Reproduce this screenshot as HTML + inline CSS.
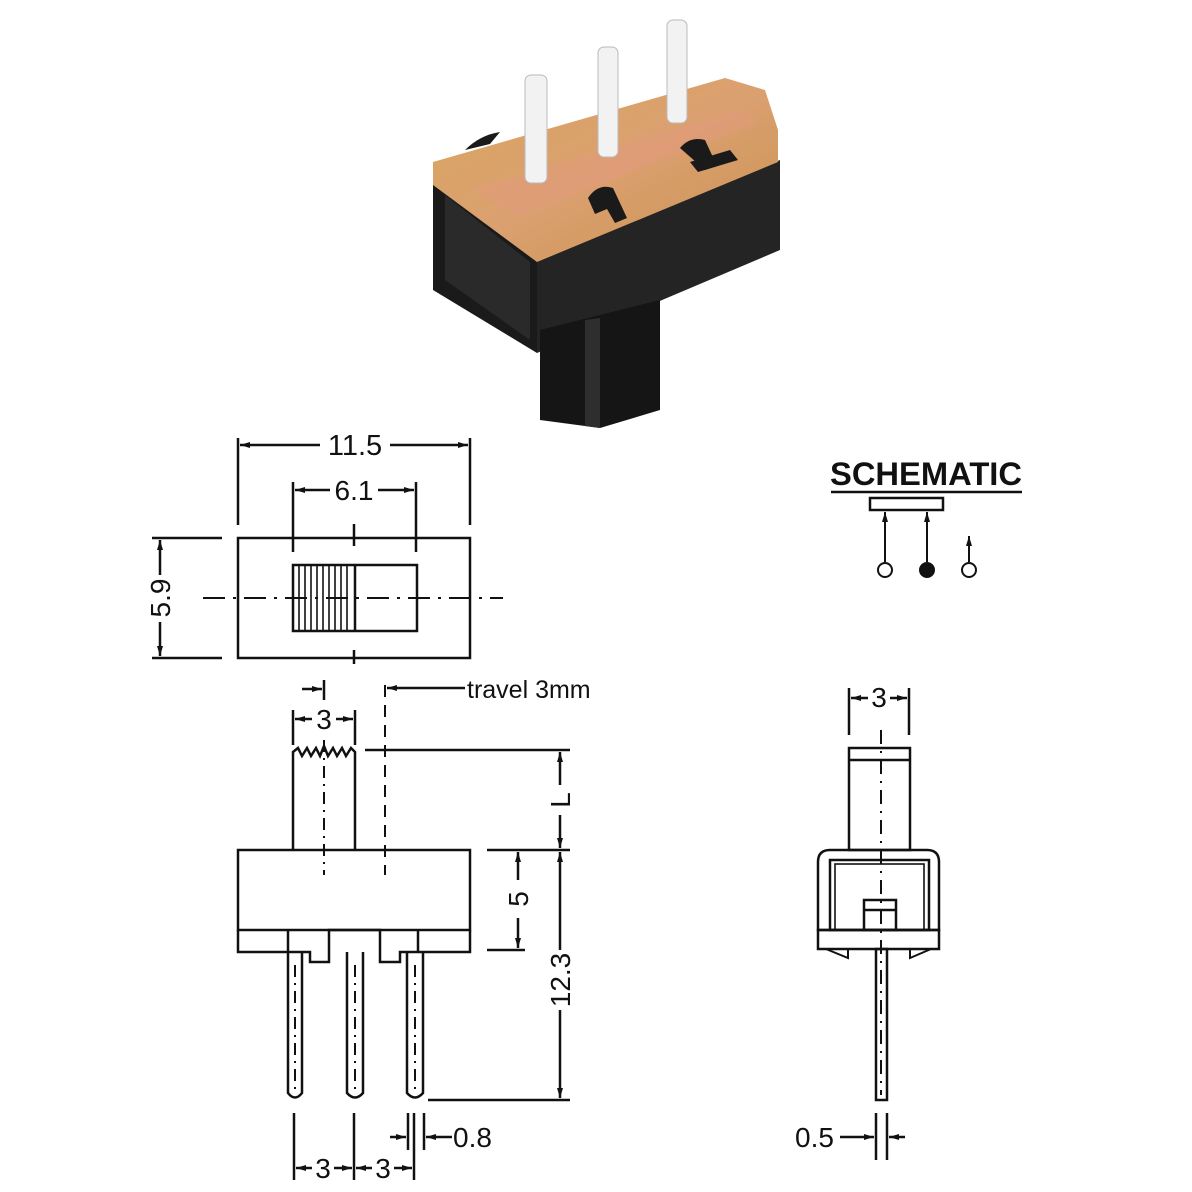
<!DOCTYPE html>
<html><head><meta charset="utf-8"><style>
html,body{margin:0;padding:0;background:#fff}
svg{display:block}
text{font-family:"Liberation Sans",Arial,sans-serif;fill:#111}
</style></head><body>
<svg width="1192" height="1192" viewBox="0 0 1192 1192" xmlns="http://www.w3.org/2000/svg">
<defs>
<marker id="a" viewBox="0 0 10 6" refX="10" refY="3" markerWidth="10" markerHeight="6" orient="auto-start-reverse" markerUnits="userSpaceOnUse"><path d="M0,0 L10,3 L0,6 z" fill="#111"/></marker>
<linearGradient id="tan" x1="0" y1="0" x2="1" y2="1"><stop offset="0" stop-color="#d9a65e"/><stop offset="0.5" stop-color="#dba070"/><stop offset="1" stop-color="#c9924f"/></linearGradient>
</defs>
<!-- photo -->
<g>
<polygon points="433,178 537,258 537,353 433,290" fill="#1a1a1a"/>
<polygon points="445,195 530,262 530,340 445,280" fill="#2a2a2a"/>
<polygon points="537,258 780,160 780,250 537,353" fill="#242424"/>
<polygon points="540,330 660,300 660,410 600,428 540,420" fill="#151515"/>
<polygon points="585,320 600,318 600,428 585,426" fill="#2e2e2e"/>
<polygon points="433,162 725,78 765,90 778,130 778,162 537,262 433,185" fill="url(#tan)"/>
<polygon points="470,190 740,110 760,122 520,215" fill="#e59a80" opacity="0.45"/>
<path d="M588,198 q10,-15 25,-10 l14,30 l-12,5 l-8,-14 l-12,5 z" fill="#1a1a1a"/>
<path d="M680,148 q10,-12 25,-8 l12,26 l-12,4 z" fill="#1a1a1a"/>
<path d="M690,162 l40,-12 l8,10 l-40,12 z" fill="#1a1a1a"/>
<path d="M465,150 q15,-15 35,-18 l-10,12 z" fill="#1a1a1a"/>
<g fill="#f2f2f2" stroke="#bbb" stroke-width="1">
<rect x="525" y="75" width="22" height="108" rx="6"/>
<rect x="598" y="47" width="20" height="110" rx="6"/>
<rect x="667" y="20" width="20" height="103" rx="6"/>
</g>
</g>

<g stroke="#111" stroke-width="2.5" fill="none">
<!-- top view -->
<rect x="238" y="538" width="232" height="120"/>
<rect x="293" y="565" width="124" height="66"/>
<g stroke-width="1.6">
<line x1="299" y1="565" x2="299" y2="631"/><line x1="305" y1="565" x2="305" y2="631"/>
<line x1="311" y1="565" x2="311" y2="631"/><line x1="317" y1="565" x2="317" y2="631"/>
<line x1="323" y1="565" x2="323" y2="631"/><line x1="329" y1="565" x2="329" y2="631"/>
<line x1="335" y1="565" x2="335" y2="631"/><line x1="341" y1="565" x2="341" y2="631"/>
<line x1="347" y1="565" x2="347" y2="631"/>
</g>
<line x1="355" y1="565" x2="355" y2="631"/>
<line x1="203" y1="598" x2="503" y2="598" stroke-width="2" stroke-dasharray="22,8,3,8"/>
<line x1="354" y1="524" x2="354" y2="546"/><line x1="354" y1="650" x2="354" y2="664"/>
<line x1="238" y1="438" x2="238" y2="525"/><line x1="470" y1="438" x2="470" y2="525"/>
<line x1="240" y1="445" x2="320" y2="445" marker-start="url(#a)"/><line x1="390" y1="445" x2="468" y2="445" marker-end="url(#a)"/>
<line x1="293" y1="482" x2="293" y2="552"/><line x1="416" y1="482" x2="416" y2="552"/>
<line x1="295" y1="490" x2="330" y2="490" marker-start="url(#a)"/><line x1="378" y1="490" x2="414" y2="490" marker-end="url(#a)"/>
<line x1="152" y1="538" x2="222" y2="538"/><line x1="152" y1="658" x2="222" y2="658"/>
<line x1="160" y1="540" x2="160" y2="575" marker-start="url(#a)"/><line x1="160" y1="622" x2="160" y2="656" marker-end="url(#a)"/>

<!-- side view -->
<path d="M293,850 L293,752 L298,748 L302,756 L307,748 L311,756 L316,748 L320,756 L324,746 L328,756 L333,748 L337,756 L342,748 L346,756 L351,748 L355,752 L355,850"/>
<rect x="238" y="850" width="232" height="80" />
<path d="M238,930 L238,952 L288,952 L288,930 M288,952 L310,952 L310,962 L329,962 L329,930 L380,930 L380,962 L400,962 L400,952 L418,952 L418,930 M418,952 L470,952 L470,930"/>
<path d="M288,952 L288,1093 Q295,1102 302,1093 L302,952"/>
<path d="M347,952 L347,1093 Q355,1102 363,1093 L363,952"/>
<path d="M407,952 L407,1093 Q415,1102 423,1093 L423,952"/>
<g stroke-width="2" stroke-dasharray="12,6,2,6">
<line x1="295" y1="965" x2="295" y2="1090"/><line x1="355" y1="965" x2="355" y2="1090"/><line x1="415" y1="965" x2="415" y2="1090"/>
<line x1="324" y1="740" x2="324" y2="875"/>
</g>
<line x1="385" y1="685" x2="385" y2="875" stroke-width="2" stroke-dasharray="12,8"/>
<line x1="293" y1="710" x2="293" y2="745"/><line x1="355" y1="710" x2="355" y2="745"/>
<line x1="295" y1="719" x2="312" y2="719" marker-start="url(#a)"/><line x1="336" y1="719" x2="353" y2="719" marker-end="url(#a)"/>
<line x1="324" y1="680" x2="324" y2="700"/><line x1="302" y1="689" x2="322" y2="689" marker-end="url(#a)"/>
<line x1="387" y1="688" x2="465" y2="688" marker-start="url(#a)"/>
<line x1="365" y1="750" x2="570" y2="750"/>
<line x1="487" y1="850" x2="570" y2="850"/>
<line x1="487" y1="950" x2="525" y2="950"/>
<line x1="428" y1="1100" x2="570" y2="1100"/>
<line x1="560" y1="752" x2="560" y2="785" marker-start="url(#a)"/><line x1="560" y1="815" x2="560" y2="848" marker-end="url(#a)"/>
<line x1="518" y1="852" x2="518" y2="880" marker-start="url(#a)"/><line x1="518" y1="918" x2="518" y2="948" marker-end="url(#a)"/>
<line x1="560" y1="852" x2="560" y2="950" marker-start="url(#a)"/><line x1="560" y1="1010" x2="560" y2="1098" marker-end="url(#a)"/>
<line x1="294" y1="1113" x2="294" y2="1180"/><line x1="354" y1="1113" x2="354" y2="1180"/><line x1="414" y1="1113" x2="414" y2="1180"/>
<line x1="408" y1="1113" x2="408" y2="1150"/><line x1="424" y1="1113" x2="424" y2="1150"/>
<line x1="296" y1="1168" x2="312" y2="1168" marker-start="url(#a)"/><line x1="334" y1="1168" x2="352" y2="1168" marker-end="url(#a)"/>
<line x1="356" y1="1168" x2="372" y2="1168" marker-start="url(#a)"/><line x1="394" y1="1168" x2="412" y2="1168" marker-end="url(#a)"/>
<line x1="390" y1="1137" x2="406" y2="1137" marker-end="url(#a)"/><line x1="452" y1="1137" x2="426" y2="1137" marker-end="url(#a)"/>

<!-- schematic -->
<rect x="870" y="498" width="73" height="12"/>
<line x1="885" y1="562" x2="885" y2="512" marker-end="url(#a)" stroke-width="2"/>
<line x1="927" y1="562" x2="927" y2="512" marker-end="url(#a)" stroke-width="2"/>
<line x1="969" y1="562" x2="969" y2="536" marker-end="url(#a)" stroke-width="2"/>
<circle cx="885" cy="570" r="7" stroke-width="2"/>
<circle cx="927" cy="570" r="7" fill="#111" stroke-width="2"/>
<circle cx="969" cy="570" r="7" stroke-width="2"/>

<!-- right side view -->
<line x1="849" y1="688" x2="849" y2="735"/><line x1="909" y1="688" x2="909" y2="735"/>
<line x1="851" y1="698" x2="868" y2="698" marker-start="url(#a)"/><line x1="890" y1="698" x2="907" y2="698" marker-end="url(#a)"/>
<rect x="849" y="748" width="61" height="102"/>
<line x1="849" y1="760" x2="910" y2="760"/>
<path d="M818,930 L818,862 Q818,850 830,850 L927,850 Q939,850 939,862 L939,930 Z"/>
<rect x="830" y="860" width="99" height="70"/>
<rect x="835" y="864" width="89" height="66" stroke-width="1.6"/>
<rect x="818" y="930" width="121" height="19"/>
<path d="M826,949 L848,958 L848,949 M931,949 L910,958 L910,949" stroke-width="2"/>
<rect x="864" y="900" width="32" height="30"/>
<line x1="864" y1="910" x2="896" y2="910"/>
<rect x="876" y="949" width="11" height="151"/>
<line x1="881" y1="730" x2="881" y2="1095" stroke-width="2" stroke-dasharray="14,7,2,7"/>
<line x1="876" y1="1113" x2="876" y2="1160"/><line x1="887" y1="1113" x2="887" y2="1160"/>
<line x1="840" y1="1137" x2="874" y2="1137" marker-end="url(#a)"/><line x1="905" y1="1137" x2="889" y2="1137" marker-end="url(#a)"/>
<line x1="831" y1="492" x2="1022" y2="492" stroke-width="2.5"/>
</g>

<g font-size="28">
<rect x="322" y="430" width="66" height="30" fill="#fff"/>
<text x="355" y="455" text-anchor="middle" font-size="29">11.5</text>
<text x="354" y="500" text-anchor="middle">6.1</text>
<text transform="translate(170,598) rotate(-90)" text-anchor="middle">5.9</text>
<text x="324" y="729" text-anchor="middle">3</text>
<text x="467" y="698" font-size="25">travel 3mm</text>
<text transform="translate(570,800) rotate(-90)" text-anchor="middle">L</text>
<text transform="translate(528,899) rotate(-90)" text-anchor="middle">5</text>
<text transform="translate(570,980) rotate(-90)" text-anchor="middle">12.3</text>
<text x="323" y="1178" text-anchor="middle">3</text>
<text x="383" y="1178" text-anchor="middle">3</text>
<text x="453" y="1147">0.8</text>
<text x="879" y="707" text-anchor="middle">3</text>
<text x="795" y="1147">0.5</text>
<text x="926" y="485" text-anchor="middle" font-size="32" font-weight="bold" textLength="192" lengthAdjust="spacingAndGlyphs">SCHEMATIC</text>
</g>
</svg>
</body></html>
